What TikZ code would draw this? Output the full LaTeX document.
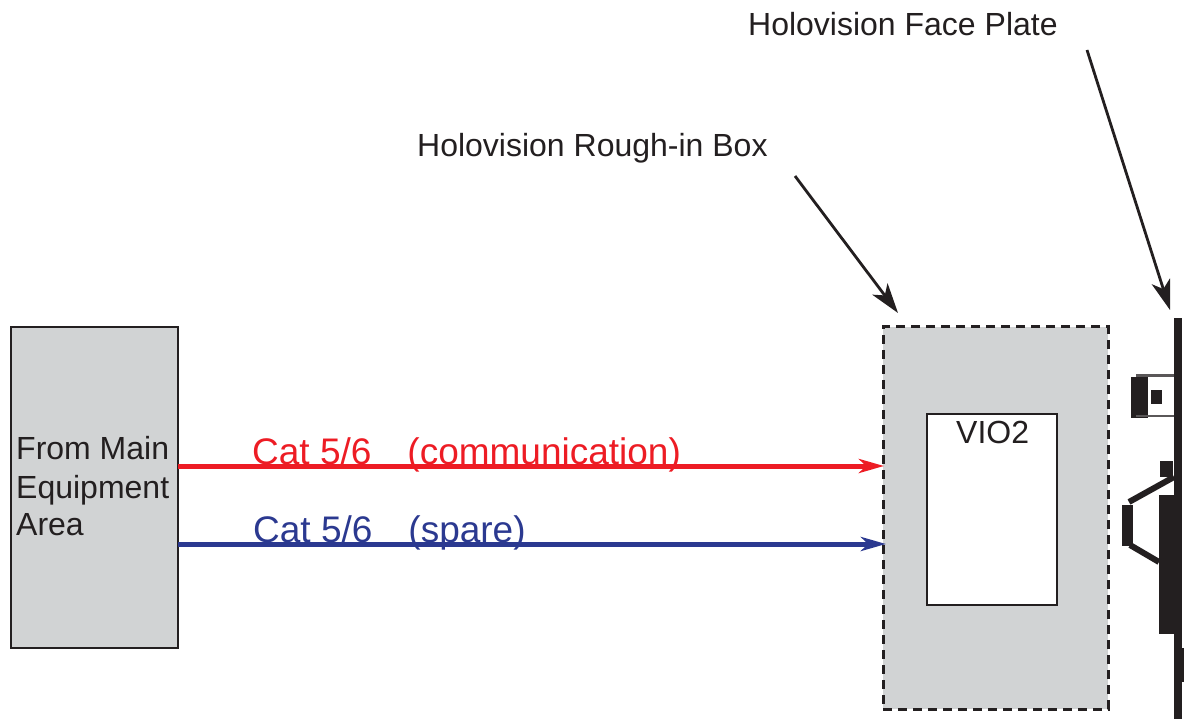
\documentclass[tikz,border=0pt]{standalone}
\usepackage{fontspec}
\setmainfont{Liberation Sans}
\usetikzlibrary{arrows.meta}
\definecolor{ink}{HTML}{231F20}
\definecolor{panel}{HTML}{D1D3D4}
\definecolor{catred}{HTML}{ED1C24}
\definecolor{catblue}{HTML}{2B3990}
\tikzset{
  lbl/.style={font=\fontsize{32}{38}\selectfont,text=ink,inner sep=0pt,anchor=base west},
  catlbl/.style={font=\fontsize{37}{43}\selectfont,inner sep=0pt,anchor=base west},
  box/.style={draw=ink,line width=2.8pt,inner sep=0pt},
  cable/.style={line width=5pt,-{Stealth[length=25pt,width=14pt,inset=7pt]}},
  pointer/.style={draw=ink,line width=2.8pt,-{Stealth[length=30pt,width=19pt,inset=8pt]}},
  solid ink/.style={fill=ink,draw=none},
  strut/.style={draw=ink,line width=6pt}
}
\begin{document}
\begin{tikzpicture}[x=1pt,y=-1pt]
\useasboundingbox (0,0) rectangle (1184,719);
% main boxes
\node[box,fill=panel,minimum width=167pt,minimum height=321pt] (src) at (94.5,487.5) {};
\node[draw=ink,fill=panel,line width=3pt,dash pattern=on 9pt off 6pt,minimum width=225pt,minimum height=382pt,inner sep=0pt] (rough) at (995.5,518) {};
\node[box,fill=white,minimum width=130pt,minimum height=191pt] (vio) at (992,509.5) {};
% labels
\node[lbl] (srcA) at (16,459) {From Main};
\node[lbl] (srcB) at (16,498) {Equipment};
\node[lbl] (srcC) at (16,535) {Area};
\node[lbl] (viotext) at (956,443) {VIO2};
\node[lbl] (roughtext) at (417,157) {Holovision Rough-in Box};
\node[lbl] (facetext) at (748,36) {Holovision Face Plate};
% cables
\coordinate (redS) at (178,466);
\coordinate (redE) at (884,466);
\coordinate (blueS) at (178,544);
\coordinate (blueE) at (886,544);
\draw[cable,catred] (redS) -- (redE);
\draw[cable,catblue] (blueS) -- (blueE);
\node[catlbl,text=catred] (redtext) at (252,464) {Cat 5/6\hspace{36pt}(communication)};
\node[catlbl,text=catblue] (bluetext) at (253,542) {Cat 5/6\hspace{36pt}(spare)};
% pointers
\coordinate (p1a) at (795,176);
\coordinate (p1b) at (898,313);
\coordinate (p2a) at (1087,50);
\coordinate (p2b) at (1170,310);
\draw[pointer] (p1a) -- (p1b);
\draw[pointer] (p2a) -- (p2b);
% face plate
\fill[solid ink] (1174,318) rectangle (1182,719);
\fill[solid ink] (1182,648) rectangle (1184,682);
\fill[solid ink] (1131,377) rectangle (1148,418);
\draw[draw=ink!75,line width=2.5pt] (1136,375.5) -- (1174,375.5);
\draw[draw=ink!75,line width=2.5pt] (1136,416) -- (1174,416);
\fill[solid ink] (1151,390) rectangle (1162,404);
\fill[solid ink] (1160,461) rectangle (1173,477);
\fill[solid ink] (1159,495) rectangle (1174,634);
\fill[solid ink] (1122,505) rectangle (1133,546);
\draw[strut] (1129,502) -- (1174,477);
\draw[strut] (1130,545) -- (1159,562);
\end{tikzpicture}
\end{document}
